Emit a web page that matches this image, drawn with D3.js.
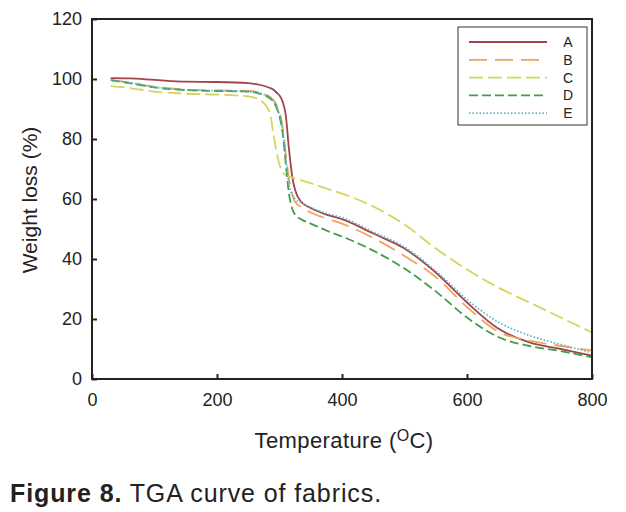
<!DOCTYPE html>
<html>
<head>
<meta charset="utf-8">
<script src="https://cdn.jsdelivr.net/npm/d3@7"></script>
<style>
	body { margin: 0; background: #fff; }
	text { font-family: "Liberation Sans", Arial, sans-serif; fill: #222; }
</style>
</head>
<body>
<svg id="chart"></svg>
<script>
// temperature (oC) shared by all curves
let temps	= [30, 60, 100, 150, 200, 250, 270, 285, 290, 295, 300, 305, 310, 315, 320, 325, 335, 350, 375, 400, 450, 500, 550, 600, 650, 700, 750, 800];

let seriesA	= [100.3, 100.2, 99.7, 99.1, 99.0, 98.6, 98.0, 97.0, 96.5, 95.5, 94.5, 92.5, 88, 77, 68, 63, 59, 57, 54.8, 53.3, 48.5, 43.5, 35.5, 25.5, 16.8, 12.2, 10.0, 7.8];
let seriesB	= [99.6, 98.8, 97.4, 96.5, 96.2, 96.0, 95.3, 94.0, 93.0, 91.5, 89, 84, 75, 67, 62, 59, 57.3, 55.5, 53.5, 51.8, 47, 41, 34, 24, 15.8, 12.8, 11, 9.5];
let seriesC	= [97.6, 97.0, 95.8, 95.1, 94.8, 94.2, 92.8, 88.5, 82, 76, 71.5, 69, 68, 67.5, 67.2, 66.8, 66.2, 65.3, 63.5, 61.8, 57.5, 51.5, 43.5, 36.5, 30.5, 25.5, 20.5, 15.5];
let seriesD	= [99.6, 98.6, 97.2, 96.3, 96.0, 95.8, 95.0, 93.5, 92.5, 90.5, 87.5, 82, 72, 62, 57, 54.7, 53.2, 51.8, 49.5, 47.5, 42.8, 36.8, 29.2, 20.5, 14, 11, 9.3, 7.2];
let seriesE	= [99.7, 98.8, 97.3, 96.4, 96.1, 95.9, 95.2, 93.8, 92.8, 90.8, 88, 83, 74, 65, 61.5, 60, 58.8, 57.2, 55.2, 53.8, 49, 44, 36, 26.5, 19, 14.5, 11.5, 8.8];

let names	= ['A', 'B', 'C', 'D', 'E'];
let xTicks	= [0, 200, 400, 600, 800];
let yTicks	= [0, 20, 40, 60, 80, 100, 120];

let series	= [
	{ name: 'A', values: seriesA, color: '#a2444c', dash: null },
	{ name: 'B', values: seriesB, color: '#f2a35e', dash: '18,8' },
	{ name: 'C', values: seriesC, color: '#d6d45a', dash: '14,5' },
	{ name: 'D', values: seriesD, color: '#3e9e4a', dash: '9,4' },
	{ name: 'E', values: seriesE, color: '#5fb6c6', dash: '1.5,2' }
];

let canvasWidth		= 626;
let canvasHeight	= 512;
let margin			= { top: 19, right: 34, bottom: 133, left: 92 };
let width			= canvasWidth - margin.left - margin.right;
let height			= canvasHeight - margin.top - margin.bottom;

let svg = d3.select('#chart')
	.attr('width', canvasWidth)
	.attr('height', canvasHeight);

let g = svg.append('g')
	.attr('transform', 'translate(' + margin.left + ',' + margin.top + ')');

let x = d3.scaleLinear().domain([0, 800]).range([0, width]);
let y = d3.scaleLinear().domain([0, 120]).range([height, 0]);

// curves
let line = d3.line()
	.x((d) => x(d[0]))
	.y((d) => y(d[1]))
	.curve(d3.curveMonotoneX);

series.forEach((s) => {
	g.append('path')
		.attr('d', line(temps.map((t, i) => [t, s.values[i]])))
		.attr('fill', 'none')
		.attr('stroke', s.color)
		.attr('stroke-width', 1.8)
		.attr('stroke-dasharray', s.dash);
});

// axes, ticks inside
let xAxis = g.append('g')
	.attr('transform', 'translate(0,' + height + ')')
	.call(d3.axisBottom(x).tickValues(xTicks).tickSizeInner(-5).tickSizeOuter(0).tickPadding(14));
let yAxis = g.append('g')
	.call(d3.axisLeft(y).tickValues(yTicks).tickSizeInner(-5).tickSizeOuter(0).tickPadding(10));

[xAxis, yAxis].forEach((a) => {
	a.select('.domain').remove();
	a.selectAll('line').attr('stroke', '#222').attr('stroke-width', 2);
	a.selectAll('text').attr('font-size', 18).attr('fill', '#222')
		.style('font-family', '"Liberation Sans", Arial, sans-serif');
});

// frame
g.append('rect')
	.attr('width', width)
	.attr('height', height)
	.attr('fill', 'none')
	.attr('stroke', '#222')
	.attr('stroke-width', 2);

// legend
let legend = g.append('g').attr('transform', 'translate(' + (458 - margin.left) + ',' + (27 - margin.top) + ')');
legend.append('rect')
	.attr('width', 129)
	.attr('height', 98)
	.attr('fill', '#fff')
	.attr('stroke', '#333')
	.attr('stroke-width', 1);

let rowSpace = 17.8;
series.forEach((s, i) => {
	let ly = 15 + i * rowSpace;
	legend.append('line')
		.attr('x1', 11).attr('x2', 89)
		.attr('y1', ly).attr('y2', ly)
		.attr('stroke', s.color)
		.attr('stroke-width', 1.8)
		.attr('stroke-dasharray', s.dash);
	legend.append('text')
		.attr('x', 110)
		.attr('y', ly + 5)
		.attr('text-anchor', 'middle')
		.attr('font-size', 14)
		.text(names[i]);
});

// axis titles
svg.append('text')
	.attr('transform', 'translate(37,' + 200 + ') rotate(-90)')
	.attr('text-anchor', 'middle')
	.attr('font-size', 21)
	.text('Weight loss (%)');

let xTitle = svg.append('text')
	.attr('x', 344)
	.attr('y', 448)
	.attr('text-anchor', 'middle')
	.attr('font-size', 22)
	.attr('letter-spacing', 0.4);
xTitle.append('tspan').text('Temperature (');
xTitle.append('tspan').attr('font-size', 16).attr('dy', -7).text('O');
xTitle.append('tspan').attr('dy', 7).text('C)');

// caption
let caption = svg.append('text')
	.attr('x', 10)
	.attr('y', 502)
	.attr('font-size', 25)
	.attr('letter-spacing', 0.9);
caption.append('tspan').attr('font-weight', 'bold').text('Figure 8.');
caption.append('tspan').text(' TGA curve of fabrics.');
</script>
</body>
</html>
